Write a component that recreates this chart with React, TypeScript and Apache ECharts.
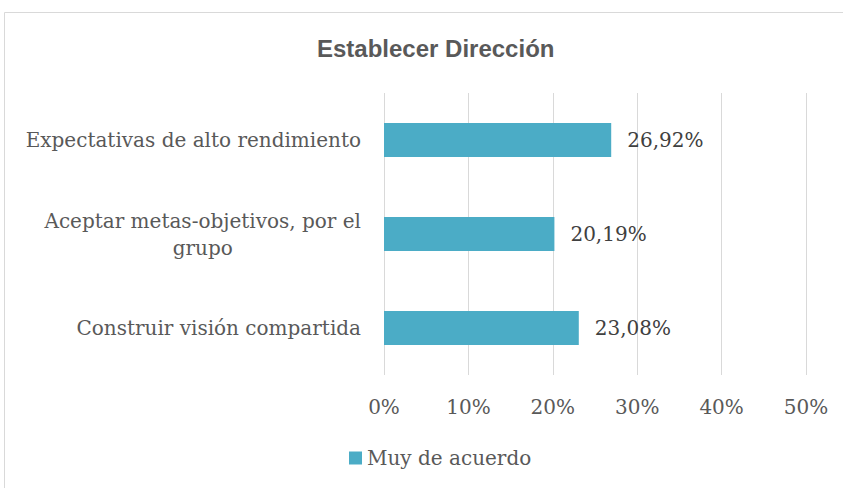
import React, { useEffect, useRef } from "react";
import * as echarts from "echarts";

const categories = [
  "Construir visión compartida",
  "Aceptar metas-objetivos, por el\ngrupo",
  "Expectativas de alto rendimiento",
];
const values = [23.08, 20.19, 26.92];
const seriesName = "Muy de acuerdo";
const title = "Establecer Dirección";

const SERIF = "'DejaVu Serif', serif";
const FS = 20;

export default function App() {
  const ref = useRef<HTMLDivElement>(null);
  useEffect(() => {
    const chart = echarts.init(ref.current!, null, { renderer: "svg" });
    chart.setOption({
      animation: false,
      backgroundColor: "#ffffff",
      title: {
        text: title,
        left: 312,
        top: 31,
        textStyle: {
          fontFamily: "'Liberation Sans', Arial, sans-serif",
          fontSize: 24,
          fontWeight: "bold",
          color: "#595959",
        },
      },
      graphic: [
        {
          type: "rect",
          shape: { x: 4.5, y: 12.5, width: 850, height: 490 },
          style: { fill: "none", stroke: "#d9d9d9", lineWidth: 1 },
          silent: true,
        },
      ],
      legend: {
        data: [seriesName],
        left: 344,
        top: 443,
        icon: "rect",
        itemWidth: 13,
        itemHeight: 13,
        itemGap: 5,
        textStyle: { fontFamily: SERIF, fontSize: FS, color: "#595959" },
      },
      grid: { left: 384, right: 37, top: 93, bottom: 113, containLabel: false },
      xAxis: {
        type: "value",
        min: 0,
        max: 50,
        interval: 10,
        axisLine: { show: false },
        axisTick: { show: false },
        splitLine: { show: true, lineStyle: { color: "#d9d9d9", width: 1 } },
        axisLabel: {
          formatter: "{value}%",
          margin: 22,
          fontFamily: SERIF,
          fontSize: FS,
          color: "#595959",
        },
      },
      yAxis: {
        type: "category",
        data: categories,
        axisLine: { show: false },
        axisTick: { show: false },
        axisLabel: {
          margin: 23,
          fontFamily: SERIF,
          fontSize: FS,
          color: "#595959",
          lineHeight: 27,
          formatter: (v: string) =>
            v
              .split("\n")
              .map((l) => `{c|${l}}`)
              .join("\n"),
          rich: {
            c: {
              align: "center",
              fontFamily: SERIF,
              fontSize: FS,
              color: "#595959",
              lineHeight: 27,
            },
          },
        },
      },
      series: [
        {
          name: seriesName,
          type: "bar",
          data: values,
          barWidth: "36%",
          itemStyle: { color: "#4bacc6" },
          label: {
            show: true,
            position: "right",
            distance: 16,
            formatter: (p: any) => p.value.toFixed(2).replace(".", ",") + "%",
            fontFamily: SERIF,
            fontSize: FS,
            color: "#404040",
          },
        },
      ],
    });
    return () => chart.dispose();
  }, []);
  return (
    <div
      ref={ref}
      style={{ position: "absolute", left: 0, top: 0, width: 843, height: 488 }}
    />
  );
}
